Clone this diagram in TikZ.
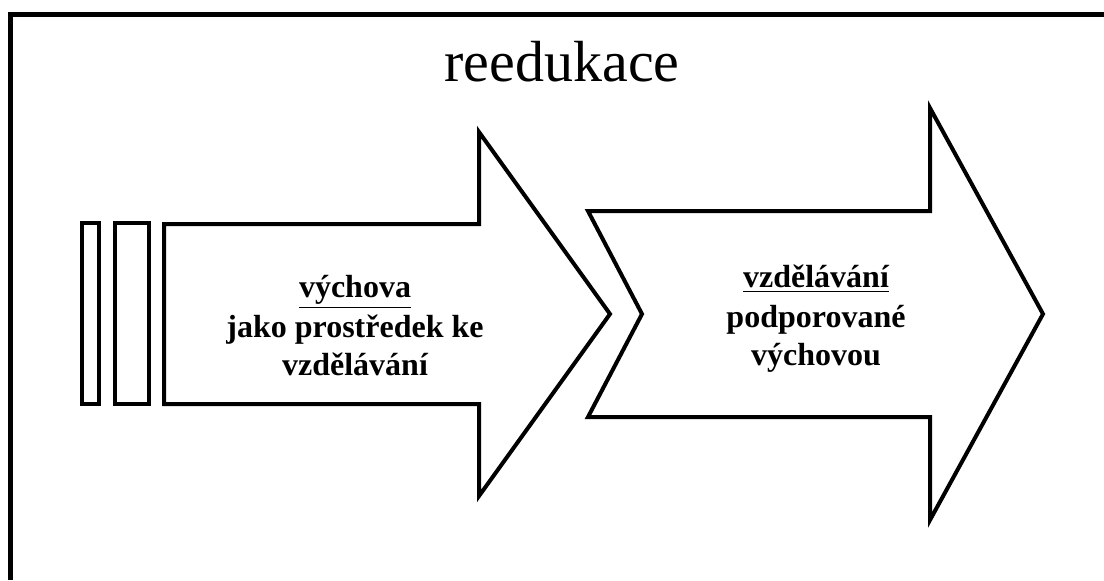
\documentclass[tikz,border=0pt]{standalone}
\usepackage{fontspec}
\setmainfont{Liberation Serif}
\usetikzlibrary{positioning}

\begin{document}
\begin{tikzpicture}[x=0.5pt, y=-0.5pt,
    frame/.style={line width=2.5pt},
    outline/.style={draw, line width=2pt, fill=white, line join=miter},
    heading/.style={font=\fontsize{29}{34}\selectfont},
    caption/.style={font=\fontsize{16}{19}\selectfont\bfseries, align=center}]

  \useasboundingbox (0,0) rectangle (1104,580);

  \draw [frame] (10,580) -- (10,14) -- (1104,14);

  \node (T) [heading] at (562,62) {reedukace};

  \draw [outline] (82,223) rectangle (99,404);
  \draw [outline] (115,223) rectangle (149,404);

  \draw [outline] (164,224) -- (479,224) -- (479,132) -- (610,314)
    -- (479,496) -- (479,404) -- (164,404) -- cycle;
  \draw [outline] (588,211) -- (930,211) -- (930,108) -- (1043,314)
    -- (930,520) -- (930,417) -- (588,417) -- (642,314) -- cycle;

  \node (A) [caption] at (355,326) {\underline{výchova}\\[1pt]jako prostředek ke\\vzdělávání};
  \node (B) [caption] at (816,319) {\underline{vzdělávání}\\[1pt]podporované\\výchovou};

\end{tikzpicture}
\end{document}
